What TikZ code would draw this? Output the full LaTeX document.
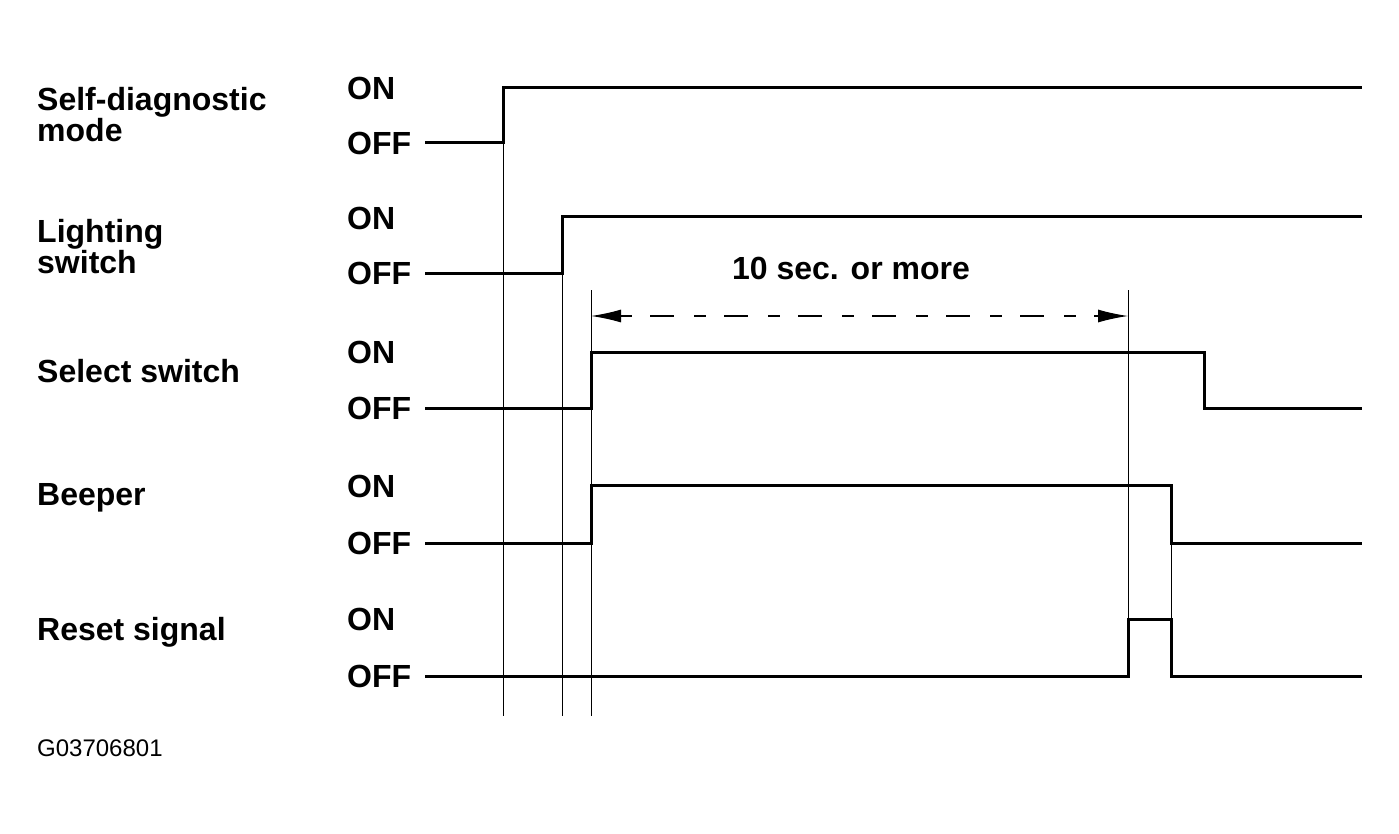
\documentclass[tikz,border=0pt]{standalone}
\usepackage{fontspec}
\setmainfont{Liberation Sans}
\usetikzlibrary{arrows.meta}

\tikzset{
  sig/.style={line width=3pt},
  guide/.style={line width=1pt},
  span/.style={line width=1.2pt, dash pattern=on 12pt off 18pt on 24pt off 20pt,
    {Latex[length=30pt,width=13pt]}-{Latex[length=30pt,width=13pt]}},
  lbl/.style={anchor=west,inner sep=0pt,align=left,
    font=\bfseries\fontsize{32}{31}\selectfont},
  lvl/.style={anchor=west,inner sep=0pt,font=\bfseries\fontsize{32}{32}\selectfont},
}

\begin{document}
\begin{tikzpicture}[x=1pt,y=-1pt]
    \useasboundingbox (0,0) rectangle (1399,834);
    % signal names
    \node[lbl] (selfdiag) at (37,115) {Self-diagnostic\\mode};
    \node[lbl] (lighting) at (37,247) {Lighting\\switch};
    \node[lbl] (select)   at (37,371) {Select switch};
    \node[lbl] (beeper)   at (37,498) {Beeper};
    \node[lbl] (reset)    at (37,632) {Reset signal};
    % levels
    \node[lvl] (on1)  at (347, 88) {ON};
    \node[lvl] (off1) at (347,143) {OFF};
    \node[lvl] (on2)  at (347,218) {ON};
    \node[lvl] (off2) at (347,273) {OFF};
    \node[lvl] (on3)  at (347,352) {ON};
    \node[lvl] (off3) at (347,408) {OFF};
    \node[lvl] (on4)  at (347,486) {ON};
    \node[lvl] (off4) at (347,543) {OFF};
    \node[lvl] (on5)  at (347,619) {ON};
    \node[lvl] (off5) at (347,676) {OFF};
    % waveforms
    \draw[sig] (425,143) -| (503, 88) -- (1362, 88);
    \draw[sig] (425,273) -| (562,217) -- (1362,217);
    \draw[sig] (425,408) -| (591,352) -| (1204,408) -- (1362,408);
    \draw[sig] (425,543) -| (591,485) -| (1171,543) -- (1362,543);
    \draw[sig] (425,676) -| (1128,619) -| (1171,676) -- (1362,676);
    % timing guides
    \draw[guide] (503,143) -- (503,716);
    \draw[guide] (562,273) -- (562,716);
    \draw[guide] (591,290) -- (591,716);
    \draw[guide] (1128,290) -- (1128,619);
    \draw[guide] (1171,543) -- (1171,619);
    % duration
    \coordinate (t0) at (591,316);
    \coordinate (t1) at (1128,316);
    \draw[span] (t0) -- (t1);
    \node[lvl,anchor=center] (dur) at (851,268) {10 sec. or more};
    \node[anchor=west,inner sep=0pt,font=\fontsize{24}{24}\selectfont] (code) at (37,748) {G03706801};
\end{tikzpicture}
\end{document}
